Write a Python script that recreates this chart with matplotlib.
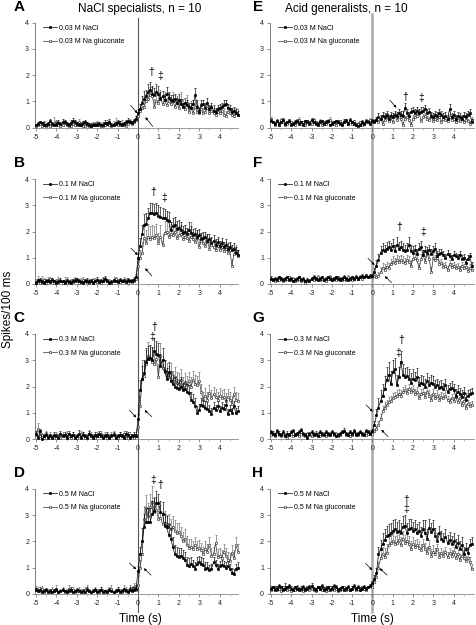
import numpy as np
import matplotlib
matplotlib.use('Agg')
import matplotlib.pyplot as plt
from matplotlib import transforms
from matplotlib.lines import Line2D

plt.rcParams['font.family'] = ['Liberation Sans', 'DejaVu Sans']
plt.rcParams['axes.unicode_minus'] = False

# 100 ms bins, -5.0 ... 4.9 s
t = np.round(np.arange(-50, 50) / 10.0, 1)

# ---- NaCl specialists ----
a_nacl = [0.10,0.15,0.20,0.18,0.12,0.10,0.15,0.25,0.15,0.10,
          0.12,0.18,0.15,0.20,0.22,0.15,0.10,0.18,0.25,0.20,
          0.15,0.12,0.10,0.18,0.20,0.15,0.10,0.08,0.12,0.10,
          0.12,0.15,0.10,0.12,0.18,0.15,0.20,0.12,0.10,0.15,
          0.20,0.15,0.10,0.15,0.20,0.25,0.20,0.18,0.25,0.35,
          0.55,0.70,0.95,1.10,1.20,1.35,1.45,1.30,1.25,1.35,
          1.30,1.10,1.20,1.05,1.30,1.15,1.05,1.00,1.10,0.95,
          1.05,0.90,0.80,0.95,0.85,0.80,0.75,0.90,1.25,0.80,
          0.60,0.85,0.90,0.75,0.95,0.70,0.80,0.65,0.60,0.70,
          0.75,0.80,0.85,0.90,0.75,0.70,0.60,0.65,0.55,0.50]
a_gluc = [0.05,0.10,0.15,0.08,0.10,0.05,0.12,0.08,0.10,0.15,
          0.20,0.10,0.08,0.12,0.18,0.10,0.05,0.08,0.15,0.12,
          0.10,0.20,0.12,0.08,0.05,0.10,0.08,0.05,0.10,0.12,
          0.15,0.10,0.08,0.05,0.10,0.15,0.12,0.08,0.10,0.18,
          0.10,0.12,0.15,0.10,0.08,0.15,0.20,0.15,0.20,0.30,
          0.45,0.65,0.75,0.80,1.00,1.10,1.25,1.20,0.80,1.00,
          0.95,1.15,0.90,1.05,0.85,1.00,0.90,1.05,0.80,0.95,
          0.75,1.05,0.85,0.70,0.95,0.60,0.75,0.55,0.80,0.60,
          0.55,0.70,0.55,0.60,0.75,0.55,0.65,0.55,0.50,0.60,
          0.55,0.65,0.50,0.45,0.60,0.55,0.50,0.45,0.55,0.50]
a_nacl_err = [.05,.08,.06,.05,.12,.06,.05,.10,.06,.05,.08,.10,.06,.12,.08,.05,.06,.10,.12,.08,
              .06,.05,.08,.06,.10,.05,.06,.08,.05,.06,.08,.06,.05,.08,.10,.06,.12,.05,.08,.06,
              .08,.10,.06,.08,.10,.12,.08,.06,.10,.10,.15,.20,.25,.30,.25,.30,.30,.30,.25,.30,
              .30,.25,.20,.25,.25,.20,.20,.25,.20,.20,.25,.20,.15,.20,.20,.15,.20,.15,.25,.25,
              .15,.20,.15,.20,.20,.15,.15,.20,.15,.15,.15,.15,.20,.15,.15,.15,.15,.15,.15,.15]
a_gluc_err = [.10,.12,.08,.10,.12,.08,.10,.12,.10,.25,.10,.15,.08,.15,.10,.12,.08,.10,.12,.08,
              .10,.15,.10,.08,.10,.12,.08,.10,.12,.08,.10,.12,.08,.10,.12,.15,.10,.08,.15,.20,
              .10,.12,.15,.10,.12,.15,.15,.12,.15,.15,.15,.20,.25,.30,.30,.25,.30,.35,.30,.30,
              .30,.30,.30,.30,.30,.30,.25,.30,.25,.25,.25,.30,.25,.25,.30,.25,.25,.25,.25,.25,
              .25,.25,.20,.20,.20,.20,.20,.20,.20,.20,.20,.20,.25,.20,.20,.20,.20,.20,.20,.20]

b_nacl = [0.05,0.10,0.15,0.08,0.05,0.12,0.10,0.08,0.15,0.10,
          0.05,0.08,0.12,0.10,0.05,0.10,0.08,0.05,0.10,0.12,
          0.15,0.10,0.08,0.05,0.10,0.12,0.08,0.10,0.05,0.10,
          0.15,0.08,0.10,0.12,0.20,0.10,0.05,0.08,0.12,0.10,
          0.08,0.15,0.10,0.12,0.08,0.15,0.10,0.12,0.15,0.25,
          1.00,1.45,1.90,2.25,2.30,2.50,2.70,2.70,2.65,2.70,
          2.60,2.55,2.50,2.50,2.45,2.40,2.05,2.20,2.25,2.10,
          2.15,2.05,1.95,2.00,1.90,2.05,1.95,1.85,1.90,1.80,
          1.85,1.70,1.75,1.80,1.65,1.70,1.55,1.65,1.50,1.60,
          1.45,1.55,1.40,1.50,1.35,1.40,1.30,1.35,1.20,1.10]
b_gluc = [0.08,0.15,0.05,0.10,0.15,0.05,0.12,0.18,0.10,0.05,
          0.08,0.15,0.10,0.05,0.12,0.15,0.05,0.10,0.08,0.15,
          0.12,0.05,0.10,0.15,0.12,0.08,0.05,0.10,0.15,0.10,
          0.08,0.12,0.05,0.10,0.15,0.12,0.08,0.05,0.15,0.20,
          0.10,0.08,0.12,0.15,0.10,0.05,0.10,0.08,0.12,0.20,
          0.70,1.00,1.20,1.75,1.55,1.80,1.70,1.80,1.75,1.85,
          1.55,1.80,1.50,1.95,2.00,1.80,1.90,1.85,2.00,1.75,
          1.85,1.90,1.70,1.80,1.75,1.65,1.80,1.70,1.60,1.75,
          1.40,1.65,1.55,1.45,1.60,1.35,1.50,1.40,1.30,1.45,
          1.30,1.40,1.25,1.35,1.20,1.30,0.70,1.15,1.25,1.05]
b_nacl_err = [.08,.10,.06,.08,.05,.08,.10,.06,.08,.05,.06,.08,.10,.06,.05,.08,.06,.05,.08,.10,
              .06,.08,.05,.06,.08,.10,.06,.08,.05,.06,.10,.06,.08,.10,.12,.08,.05,.06,.08,.06,
              .05,.08,.06,.08,.05,.08,.06,.08,.10,.12,.20,.30,.35,.40,.40,.40,.40,.40,.40,.40,
              .40,.40,.40,.35,.35,.35,.30,.30,.30,.30,.30,.30,.25,.25,.25,.30,.25,.25,.25,.25,
              .25,.25,.25,.20,.25,.20,.25,.20,.20,.20,.20,.20,.20,.20,.20,.20,.20,.20,.20,.20]
b_gluc_err = [.10,.15,.10,.20,.08,.10,.15,.10,.08,.10,.12,.10,.08,.10,.15,.10,.08,.10,.12,.10,
              .10,.08,.12,.10,.08,.10,.15,.10,.08,.12,.10,.08,.10,.15,.10,.08,.10,.12,.10,.08,
              .10,.12,.08,.10,.12,.10,.08,.10,.12,.10,.15,.30,.40,.50,.50,.50,.50,.45,.45,.45,
              .40,.45,.40,.45,.45,.40,.40,.35,.35,.35,.35,.35,.35,.35,.35,.30,.55,.30,.30,.30,
              .30,.30,.30,.30,.30,.30,.25,.25,.25,.25,.25,.25,.25,.25,.25,.25,.25,.25,.25,.25]

c_nacl = [0.20,0.05,0.30,0.00,0.10,0.15,0.05,0.10,0.05,0.15,
          0.10,0.05,0.20,0.10,0.15,0.05,0.20,0.10,0.15,0.05,
          0.10,0.20,0.05,0.15,0.10,0.05,0.20,0.10,0.05,0.15,
          0.10,0.20,0.10,0.05,0.10,0.15,0.05,0.10,0.15,0.05,
          0.10,0.15,0.10,0.05,0.20,0.15,0.05,0.10,0.15,0.10,
          0.75,1.85,2.30,2.50,2.95,3.05,3.10,3.00,3.35,3.25,
          3.20,2.80,3.00,2.60,2.30,2.55,2.20,2.10,2.00,1.95,
          1.90,2.00,1.85,1.90,1.80,1.75,1.50,1.40,1.25,1.00,
          1.10,1.30,1.25,1.20,1.15,1.05,0.95,1.20,1.10,1.25,
          1.05,1.20,1.15,1.30,0.95,1.10,1.00,1.25,1.00,1.05]
c_gluc = [0.15,0.40,0.10,0.15,0.05,0.20,0.10,0.15,0.10,0.05,
          0.15,0.10,0.05,0.15,0.10,0.20,0.10,0.05,0.15,0.10,
          0.05,0.10,0.20,0.15,0.05,0.10,0.20,0.15,0.10,0.05,
          0.15,0.10,0.20,0.10,0.15,0.05,0.10,0.15,0.20,0.10,
          0.05,0.15,0.10,0.20,0.05,0.10,0.15,0.10,0.05,0.10,
          0.45,1.25,2.30,2.40,2.85,3.15,3.05,2.95,2.85,3.05,
          2.35,3.15,2.70,2.55,2.45,2.35,2.50,2.20,2.35,2.15,
          2.10,2.25,2.00,2.15,2.05,2.20,2.00,2.25,2.10,2.05,
          2.20,1.80,1.50,1.65,1.50,1.75,1.55,1.70,1.60,1.50,
          1.65,1.55,1.60,1.45,1.60,1.50,1.35,1.70,1.50,1.45]
c_nacl_err = [.10,.06,.10,.05,.08,.10,.06,.08,.05,.10,.08,.06,.12,.08,.10,.06,.12,.08,.10,.06,
              .08,.15,.06,.10,.08,.06,.12,.08,.06,.10,.08,.10,.08,.06,.08,.10,.06,.08,.10,.06,
              .08,.10,.08,.06,.12,.10,.06,.08,.10,.08,.20,.40,.50,.50,.50,.50,.50,.50,.50,.50,
              .45,.45,.45,.40,.40,.40,.40,.35,.35,.35,.35,.35,.30,.30,.30,.30,.30,.30,.30,.25,
              .25,.25,.25,.25,.25,.25,.25,.20,.20,.20,.20,.20,.20,.20,.20,.20,.20,.20,.20,.20]
c_gluc_err = [.12,.20,.10,.08,.06,.10,.08,.10,.06,.08,.10,.08,.06,.10,.08,.12,.08,.06,.10,.08,
              .06,.08,.12,.10,.06,.08,.15,.10,.08,.06,.10,.08,.12,.08,.10,.06,.08,.10,.12,.08,
              .06,.10,.08,.12,.06,.08,.10,.08,.06,.08,.20,.40,.70,.60,.55,.55,.55,.50,.50,.50,
              .50,.50,.45,.45,.45,.45,.40,.40,.40,.40,.40,.40,.35,.35,.35,.35,.35,.35,.35,.35,
              .35,.30,.30,.30,.30,.30,.30,.30,.30,.30,.30,.30,.30,.30,.30,.30,.30,.30,.30,.30]

d_nacl = [0.15,0.10,0.15,0.05,0.10,0.15,0.05,0.10,0.05,0.10,
          0.15,0.05,0.10,0.15,0.10,0.05,0.10,0.15,0.05,0.10,
          0.15,0.10,0.05,0.10,0.05,0.15,0.10,0.05,0.10,0.15,
          0.05,0.10,0.15,0.05,0.10,0.05,0.15,0.10,0.05,0.10,
          0.15,0.05,0.10,0.15,0.10,0.05,0.15,0.10,0.15,0.20,
          0.85,1.50,2.00,2.55,2.75,2.75,2.75,3.05,3.15,3.45,
          3.45,3.10,3.05,2.60,2.55,2.25,2.10,1.80,1.50,1.45,
          1.40,1.45,1.35,1.30,1.10,1.05,1.15,1.05,0.95,1.15,
          1.20,1.15,1.10,0.95,1.00,0.90,0.95,1.20,1.10,0.95,
          1.05,1.10,1.05,1.00,1.05,0.95,0.80,0.75,0.95,1.00]
d_gluc = [0.20,0.15,0.10,0.20,0.05,0.15,0.10,0.05,0.15,0.10,
          0.20,0.05,0.10,0.15,0.05,0.10,0.20,0.10,0.15,0.05,
          0.10,0.15,0.10,0.05,0.15,0.20,0.10,0.05,0.10,0.15,
          0.10,0.05,0.15,0.10,0.05,0.10,0.15,0.20,0.05,0.10,
          0.15,0.10,0.05,0.20,0.15,0.10,0.20,0.15,0.25,0.15,
          0.35,1.00,1.50,2.85,3.25,2.95,3.30,3.50,3.10,3.20,
          2.85,2.90,2.65,2.70,2.55,2.65,2.45,2.55,2.40,2.30,
          2.35,2.20,2.00,2.10,1.85,1.75,1.80,1.70,1.85,1.70,
          1.75,1.65,1.50,1.70,1.60,1.85,1.45,1.50,1.95,1.40,
          1.45,1.35,1.60,1.45,1.30,1.25,1.55,1.35,1.85,1.60]
d_nacl_err = [.08,.06,.10,.05,.08,.06,.05,.08,.06,.10,.08,.05,.06,.08,.06,.05,.08,.10,.05,.06,
              .08,.06,.05,.08,.06,.10,.06,.05,.08,.06,.05,.08,.10,.05,.06,.05,.08,.06,.05,.08,
              .10,.05,.08,.06,.08,.05,.10,.15,.10,.15,.20,.30,.50,.50,.50,.50,.50,.50,.50,.45,
              .35,.45,.45,.45,.40,.40,.40,.35,.35,.35,.35,.30,.30,.30,.30,.30,.25,.25,.25,.25,
              .25,.25,.25,.25,.20,.20,.20,.20,.20,.20,.20,.20,.20,.20,.20,.20,.20,.20,.20,.20]
d_gluc_err = [.10,.12,.08,.10,.06,.08,.10,.06,.10,.08,.12,.06,.08,.10,.06,.08,.12,.08,.10,.06,
              .08,.10,.08,.06,.10,.12,.08,.06,.08,.10,.08,.06,.10,.08,.06,.08,.10,.12,.06,.08,
              .10,.08,.06,.12,.10,.08,.15,.12,.15,.20,.15,.30,.50,.50,.50,.50,.50,.60,.60,.50,
              .50,.50,.45,.45,.45,.40,.40,.40,.40,.40,.35,.35,.35,.35,.35,.35,.30,.30,.30,.30,
              .30,.30,.30,.30,.30,.30,.30,.30,.30,.30,.30,.30,.30,.30,.30,.30,.30,.30,.30,.30]

# ---- Acid generalists ----
e_nacl = [0.25,0.20,0.15,0.25,0.10,0.20,0.30,0.15,0.20,0.25,
          0.10,0.15,0.20,0.25,0.15,0.20,0.10,0.25,0.20,0.15,
          0.30,0.20,0.15,0.10,0.20,0.25,0.15,0.20,0.25,0.10,
          0.15,0.20,0.25,0.20,0.15,0.10,0.20,0.25,0.15,0.30,
          0.20,0.15,0.10,0.05,0.10,0.20,0.15,0.25,0.20,0.15,
          0.25,0.20,0.30,0.40,0.35,0.45,0.40,0.50,0.35,0.45,
          0.40,0.50,0.45,0.55,0.50,0.45,0.75,0.55,0.45,0.60,
          0.65,0.55,0.65,0.55,0.60,0.65,0.70,0.55,0.60,0.45,
          0.40,0.50,0.45,0.55,0.50,0.40,0.45,0.35,0.70,0.40,
          0.50,0.35,0.45,0.40,0.35,0.45,0.40,0.50,0.55,0.20]
e_gluc = [0.35,0.20,0.10,0.25,0.15,0.30,0.20,0.10,0.15,0.25,
          0.20,0.15,0.10,0.20,0.30,0.15,0.20,0.10,0.25,0.20,
          0.15,0.30,0.20,0.15,0.25,0.10,0.20,0.15,0.25,0.30,
          0.20,0.15,0.10,0.20,0.25,0.15,0.20,0.30,0.15,0.20,
          0.15,0.25,0.10,0.15,0.20,0.10,0.15,0.20,0.25,0.30,
          0.20,0.25,0.30,0.20,0.35,0.15,0.30,0.45,0.25,0.40,
          0.20,0.45,0.30,0.40,0.35,0.10,0.35,0.40,0.30,0.10,
          0.35,0.40,0.45,0.55,0.25,0.40,0.45,0.35,0.30,0.40,
          0.25,0.35,0.30,0.40,0.20,0.35,0.30,0.25,0.40,0.30,
          0.35,0.20,0.30,0.25,0.35,0.20,0.30,0.25,0.15,0.30]
e_nacl_err = [.08,.06,.05,.08,.06,.05,.08,.06,.05,.08,.06,.05,.08,.10,.06,.05,.08,.06,.10,.05,
              .08,.06,.05,.08,.10,.06,.05,.08,.06,.05,.08,.06,.05,.08,.06,.05,.15,.08,.06,.08,
              .06,.05,.08,.06,.05,.08,.06,.08,.06,.05,.10,.10,.10,.15,.15,.15,.15,.15,.15,.15,
              .15,.15,.15,.15,.15,.20,.20,.15,.15,.15,.15,.15,.15,.15,.20,.15,.15,.15,.15,.15,
              .15,.15,.15,.15,.15,.15,.15,.15,.20,.15,.15,.15,.15,.15,.15,.15,.15,.15,.15,.15]
e_gluc_err = [.06,.05,.08,.06,.05,.06,.08,.05,.06,.08,.05,.06,.08,.05,.10,.06,.05,.08,.06,.05,
              .06,.08,.05,.06,.08,.05,.06,.05,.08,.10,.06,.05,.08,.06,.05,.06,.08,.05,.06,.08,
              .05,.06,.08,.05,.06,.05,.08,.06,.05,.08,.08,.10,.10,.10,.10,.10,.10,.12,.10,.12,
              .10,.12,.10,.12,.10,.10,.10,.12,.10,.10,.12,.10,.12,.15,.10,.12,.12,.10,.10,.12,
              .10,.10,.10,.12,.10,.10,.10,.10,.12,.10,.10,.10,.10,.10,.10,.10,.10,.10,.10,.10]

f_nacl = [0.20,0.15,0.20,0.15,0.25,0.20,0.15,0.20,0.25,0.15,
          0.20,0.10,0.15,0.20,0.25,0.15,0.20,0.10,0.15,0.10,
          0.20,0.25,0.20,0.15,0.20,0.25,0.15,0.20,0.25,0.20,
          0.15,0.20,0.25,0.20,0.15,0.20,0.25,0.20,0.15,0.20,
          0.25,0.20,0.25,0.20,0.25,0.30,0.25,0.30,0.25,0.30,
          0.30,0.45,0.70,0.90,1.20,1.30,1.25,1.35,1.40,1.30,
          1.45,1.25,1.50,1.35,1.40,1.30,1.25,1.30,1.50,1.25,
          1.20,1.30,1.15,1.35,1.40,1.10,1.25,1.20,1.30,1.15,
          1.25,1.35,1.05,1.15,1.20,1.10,1.00,1.15,1.05,0.95,
          1.10,1.05,1.00,1.10,0.95,1.00,0.80,0.95,1.05,0.70]
f_gluc = [0.20,0.15,0.10,0.20,0.15,0.20,0.10,0.15,0.20,0.25,
          0.15,0.20,0.10,0.15,0.20,0.10,0.15,0.05,0.10,0.15,
          0.20,0.15,0.20,0.25,0.15,0.20,0.15,0.10,0.20,0.25,
          0.15,0.20,0.15,0.25,0.20,0.15,0.20,0.15,0.25,0.20,
          0.15,0.20,0.25,0.20,0.25,0.20,0.25,0.30,0.25,0.25,
          0.25,0.30,0.25,0.30,0.45,0.60,0.55,0.65,0.60,0.75,
          0.85,0.80,0.90,0.85,0.90,0.85,0.80,0.90,0.85,0.70,
          0.95,1.00,0.90,0.60,0.95,1.10,0.85,1.15,0.95,0.45,
          1.00,0.90,1.00,0.75,0.80,0.65,0.70,0.55,0.75,0.65,
          0.70,0.60,0.65,0.55,0.70,0.60,0.65,0.50,0.60,0.55]
f_nacl_err = [.10,.06,.05,.08,.06,.05,.08,.06,.05,.08,.06,.05,.08,.06,.05,.08,.06,.05,.08,.06,
              .05,.08,.06,.05,.08,.06,.05,.08,.06,.05,.08,.06,.05,.08,.06,.05,.08,.06,.05,.08,
              .06,.05,.08,.06,.05,.08,.06,.08,.06,.08,.10,.15,.20,.25,.25,.25,.25,.25,.25,.25,
              .25,.25,.30,.25,.25,.25,.25,.25,.30,.25,.25,.20,.20,.20,.25,.20,.20,.20,.20,.20,
              .20,.20,.20,.20,.15,.15,.15,.15,.15,.15,.15,.15,.15,.15,.15,.15,.15,.15,.15,.15]
f_gluc_err = [.06,.05,.08,.06,.05,.08,.06,.05,.08,.06,.05,.08,.06,.05,.08,.06,.05,.08,.06,.05,
              .08,.06,.05,.08,.06,.05,.08,.06,.05,.08,.06,.05,.08,.06,.05,.08,.06,.05,.08,.06,
              .05,.08,.06,.05,.08,.06,.05,.08,.06,.08,.10,.10,.15,.15,.20,.20,.20,.20,.20,.20,
              .20,.20,.20,.20,.20,.20,.20,.20,.20,.20,.20,.20,.20,.20,.20,.20,.20,.20,.20,.20,
              .20,.20,.20,.15,.15,.15,.15,.15,.15,.15,.15,.15,.15,.15,.15,.15,.15,.15,.15,.15]

g_nacl = [0.25,0.20,0.15,0.30,0.20,0.15,0.25,0.10,0.20,0.15,
          0.25,0.30,0.15,0.20,0.25,0.35,0.20,0.15,0.05,0.20,
          0.25,0.15,0.20,0.10,0.25,0.20,0.15,0.25,0.20,0.15,
          0.25,0.20,0.10,0.15,0.20,0.25,0.30,0.20,0.15,0.25,
          0.20,0.30,0.15,0.20,0.25,0.20,0.15,0.30,0.25,0.20,
          0.30,0.55,0.90,1.20,1.45,1.65,1.90,2.25,2.45,2.10,
          2.55,2.65,2.05,2.35,2.95,2.45,2.35,2.40,2.30,2.15,
          2.30,2.25,2.35,2.05,2.15,2.10,2.00,2.20,2.05,2.15,
          2.10,2.00,2.05,1.95,2.00,1.90,2.05,1.80,1.90,1.95,
          1.85,1.65,1.80,1.70,1.60,1.75,1.50,1.65,1.70,1.75]
g_gluc = [0.15,0.20,0.10,0.25,0.15,0.10,0.20,0.15,0.05,0.15,
          0.20,0.10,0.15,0.20,0.10,0.25,0.15,0.10,0.20,0.15,
          0.10,0.20,0.15,0.20,0.10,0.15,0.20,0.10,0.15,0.20,
          0.25,0.15,0.20,0.10,0.15,0.25,0.30,0.15,0.20,0.10,
          0.15,0.25,0.20,0.15,0.25,0.15,0.20,0.15,0.20,0.25,
          0.20,0.30,0.40,0.55,0.75,1.05,1.20,1.30,1.40,1.45,
          1.55,1.60,1.65,1.70,1.65,1.80,1.85,1.75,1.90,1.80,
          1.85,1.70,1.80,1.55,1.70,1.75,1.60,1.80,1.65,1.50,
          1.70,1.55,1.65,1.50,1.60,1.55,1.65,1.50,1.40,1.55,
          1.45,1.60,1.40,1.55,1.30,1.45,1.20,1.35,1.25,1.30]
g_nacl_err = [.08,.10,.06,.08,.12,.06,.08,.05,.10,.06,.08,.10,.06,.08,.10,.08,.06,.08,.05,.06,
              .08,.06,.10,.05,.08,.06,.05,.08,.06,.05,.08,.06,.05,.06,.08,.10,.12,.08,.06,.08,
              .06,.10,.06,.08,.10,.06,.05,.08,.10,.06,.10,.15,.25,.35,.40,.45,.50,.50,.50,.50,
              .45,.45,.40,.40,.40,.40,.35,.35,.35,.35,.35,.30,.35,.30,.30,.30,.30,.30,.30,.30,
              .30,.25,.25,.25,.25,.25,.25,.25,.25,.25,.25,.25,.25,.25,.25,.25,.25,.20,.20,.20]
g_gluc_err = [.06,.08,.05,.06,.08,.05,.06,.08,.05,.06,.08,.05,.06,.08,.05,.06,.08,.05,.06,.08,
              .05,.06,.08,.05,.06,.08,.05,.06,.08,.05,.06,.08,.05,.06,.08,.05,.06,.08,.05,.06,
              .08,.05,.06,.08,.05,.06,.08,.05,.06,.08,.05,.10,.10,.15,.20,.20,.20,.20,.20,.20,
              .20,.20,.20,.20,.20,.20,.20,.20,.20,.20,.20,.20,.20,.20,.20,.20,.20,.20,.20,.20,
              .20,.20,.20,.20,.20,.20,.20,.15,.15,.15,.15,.15,.15,.15,.15,.15,.15,.15,.15,.15]

h_nacl = [0.20,0.25,0.15,0.20,0.30,0.25,0.15,0.20,0.25,0.30,
          0.20,0.15,0.25,0.20,0.15,0.20,0.25,0.15,0.20,0.25,
          0.30,0.20,0.15,0.25,0.20,0.30,0.15,0.20,0.25,0.15,
          0.20,0.30,0.25,0.15,0.20,0.25,0.15,0.20,0.25,0.15,
          0.20,0.30,0.20,0.25,0.15,0.20,0.25,0.20,0.25,0.30,
          0.40,0.55,0.80,1.50,1.70,1.90,2.05,2.20,2.25,2.30,
          2.40,2.45,2.35,2.40,2.30,2.55,2.60,2.30,2.45,2.50,
          2.40,2.45,2.30,2.40,2.20,2.45,2.30,2.10,2.50,2.35,
          2.45,2.20,2.00,2.30,2.10,2.00,2.15,1.95,2.05,1.90,
          2.00,1.80,1.95,1.70,1.85,1.50,1.70,1.55,1.85,1.90]
h_gluc = [0.15,0.20,0.25,0.15,0.20,0.10,0.25,0.20,0.15,0.20,
          0.10,0.20,0.15,0.25,0.20,0.15,0.10,0.20,0.25,0.15,
          0.20,0.15,0.10,0.25,0.20,0.15,0.20,0.10,0.15,0.25,
          0.20,0.15,0.20,0.10,0.15,0.20,0.25,0.15,0.20,0.15,
          0.20,0.25,0.15,0.20,0.15,0.25,0.20,0.15,0.25,0.30,
          0.25,0.45,0.65,1.00,1.35,1.50,1.40,1.55,1.85,1.95,
          2.00,1.90,1.95,2.05,1.85,2.10,1.95,2.00,1.90,1.70,
          1.90,1.80,1.85,1.75,1.65,1.85,1.70,1.55,1.80,1.45,
          1.60,1.50,1.70,1.40,1.55,1.45,1.60,1.40,1.55,1.45,
          1.60,1.35,1.50,1.30,1.45,1.35,1.25,1.35,1.20,0.95]
h_nacl_err = [.08,.06,.10,.08,.06,.05,.08,.20,.06,.08,.10,.06,.05,.08,.06,.10,.08,.06,.05,.08,
              .10,.06,.08,.05,.08,.06,.10,.08,.06,.05,.08,.06,.10,.08,.06,.05,.08,.06,.10,.05,
              .08,.06,.05,.08,.10,.06,.08,.05,.06,.08,.10,.15,.20,.30,.35,.40,.40,.40,.40,.40,
              .40,.40,.40,.40,.40,.40,.40,.40,.40,.35,.35,.35,.35,.35,.35,.35,.50,.35,.35,.35,
              .35,.30,.30,.30,.30,.30,.30,.30,.30,.30,.30,.30,.30,.30,.30,.30,.25,.25,.25,.25]
h_gluc_err = [.06,.08,.05,.06,.08,.05,.06,.08,.05,.06,.08,.05,.06,.08,.05,.06,.08,.05,.06,.08,
              .05,.06,.08,.05,.06,.08,.05,.06,.08,.05,.06,.08,.05,.06,.08,.05,.06,.08,.05,.06,
              .08,.05,.06,.08,.05,.06,.08,.05,.06,.08,.10,.10,.15,.20,.30,.30,.35,.35,.35,.30,
              .30,.30,.30,.30,.30,.30,.30,.30,.30,.30,.25,.25,.25,.25,.25,.25,.25,.25,.25,.25,
              .25,.25,.20,.20,.20,.20,.20,.20,.20,.20,.20,.20,.20,.20,.20,.20,.20,.20,.20,.20]

concs = ['0.03', '0.1', '0.3', '0.5']

# letter, column, row, NaCl, NaCl sem, gluconate, gluconate sem, concentration
panels = [
    ('A', 0, 0, a_nacl, a_nacl_err, a_gluc, a_gluc_err, concs[0]),
    ('B', 0, 1, b_nacl, b_nacl_err, b_gluc, b_gluc_err, concs[1]),
    ('C', 0, 2, c_nacl, c_nacl_err, c_gluc, c_gluc_err, concs[2]),
    ('D', 0, 3, d_nacl, d_nacl_err, d_gluc, d_gluc_err, concs[3]),
    ('E', 1, 0, e_nacl, e_nacl_err, e_gluc, e_gluc_err, concs[0]),
    ('F', 1, 1, f_nacl, f_nacl_err, f_gluc, f_gluc_err, concs[1]),
    ('G', 1, 2, g_nacl, g_nacl_err, g_gluc, g_gluc_err, concs[2]),
    ('H', 1, 3, h_nacl, h_nacl_err, h_gluc, h_gluc_err, concs[3]),
]

# significance marks (symbol, x, y) and arrows (tail, head)
marks = {
    'A': [('†', 0.66, 2.13), ('‡', 1.07, 1.97)],
    'B': [('†', 0.74, 3.52), ('‡', 1.28, 3.26)],
    'C': [('†', 0.77, 4.25), ('‡', 0.71, 3.90)],
    'D': [('‡', 0.74, 4.33), ('†', 1.07, 4.14)],
    'E': [('†', 1.63, 1.18), ('‡', 2.38, 1.12)],
    'F': [('†', 1.30, 2.16), ('‡', 2.51, 1.99)],
    'G': [('†', 1.42, 3.77), ('‡', 1.28, 3.26)],
    'H': [('†', 1.68, 3.58), ('‡', 1.65, 3.22)],
}
arrows = {
    'A': [((-0.36, 0.85), (-0.03, 0.55)), ((0.72, 0.05), (0.36, 0.40))],
    'B': [((-0.34, 1.36), (-0.01, 1.10)), ((0.68, 0.30), (0.35, 0.60))],
    'C': [((-0.42, 1.10), (-0.09, 0.82)), ((0.68, 0.85), (0.32, 1.10))],
    'D': [((-0.42, 1.17), (-0.09, 0.93)), ((0.64, 0.71), (0.28, 0.97))],
    'E': [((0.86, 1.05), (1.18, 0.76))],
    'F': [((-0.22, 0.98), (0.11, 0.72)), ((0.94, 0.05), (0.61, 0.30))],
    'G': [((-0.31, 1.30), (0.02, 1.04)), ((0.77, 0.09), (0.44, 0.35))],
    'H': [((-0.34, 1.16), (-0.01, 0.90)), ((0.72, 0.71), (0.36, 0.97))],
}

fig = plt.figure(figsize=(4.76, 6.25), dpi=100)

col_left = [0.0735, 0.567]
col_width = [0.4265, 0.4286]
col_xlim = [(-5.05, 4.9), (-5.05, 5.0)]
row_bottom = [0.7957, 0.5456, 0.2976, 0.050]
row_h = 0.168
letter_x = [0.040, 0.542]

axes = {}
for letter, col, row, nacl, nacl_err, gluc, gluc_err, conc in panels:
    ax = fig.add_axes([col_left[col], row_bottom[row], col_width[col], row_h])
    ax.patch.set_visible(False)
    axes[letter] = ax
    ax.set_xlim(*col_xlim[col])
    ax.set_ylim(0, 4)
    for s in ['top', 'right']:
        ax.spines[s].set_visible(False)
    ax.spines['left'].set_color('#666666')
    ax.spines['bottom'].set_color('#888888')
    ax.spines['left'].set_linewidth(0.6)
    ax.spines['bottom'].set_linewidth(0.6)
    ax.spines['left'].set_bounds(0, 4)
    ax.set_xticks(range(-5, 5))
    ax.set_xticks(np.arange(-5, 5, 0.5), minor=True)
    ax.set_yticks(range(0, 5))
    ax.tick_params(axis='both', which='major', labelsize=5, length=2.2, width=0.5,
                   color='#666666', pad=2, labelcolor='#222222')
    ax.tick_params(axis='x', which='minor', length=1.3, width=0.4, color='#888888')

    # gluconate (open squares)
    k = min(len(t), len(gluc), len(gluc_err))
    ax.errorbar(t[:k], gluc[:k], yerr=[np.zeros(k), gluc_err[:k]], fmt='none',
                ecolor='#666666', elinewidth=0.45, capsize=1.0, capthick=0.45,
                clip_on=False, zorder=2)
    lg, = ax.plot(t[:k], gluc[:k], '-', color='#333333', lw=0.5, marker='s', ms=1.9,
                  mfc='white', mec='#333333', mew=0.45, clip_on=False, zorder=3)
    # NaCl (filled squares)
    k = min(len(t), len(nacl), len(nacl_err))
    ax.errorbar(t[:k], nacl[:k], yerr=[np.zeros(k), nacl_err[:k]], fmt='none',
                ecolor='black', elinewidth=0.45, capsize=1.0, capthick=0.45,
                clip_on=False, zorder=4)
    ln, = ax.plot(t[:k], nacl[:k], '-', color='black', lw=0.5, marker='s', ms=1.9,
                  mfc='black', mec='black', mew=0.45, clip_on=False, zorder=5)

    ax.legend([ln, lg], [conc + ' M NaCl', conc + ' M Na gluconate'],
              loc='upper left', bbox_to_anchor=(0.02, 1.02), fontsize=5,
              frameon=False, handlelength=2.0, handletextpad=0.3,
              labelspacing=0.95, borderaxespad=0.2)

    for sym, x, y in marks[letter]:
        ax.text(x, y, sym, fontsize=7.5, ha='center', va='center', color='black')
    for tail, head in arrows[letter]:
        ax.annotate('', xy=head, xytext=tail,
                    arrowprops=dict(arrowstyle='-|>', lw=0.5, color='black',
                                    mutation_scale=3.5, shrinkA=0, shrinkB=0))

    fig.text(letter_x[col], row_bottom[row] + row_h + 0.025, letter,
             fontsize=11, fontweight='bold', ha='center', va='center')

# stimulus onset lines running through each column, behind the data
tr_l = transforms.blended_transform_factory(axes['A'].transData, fig.transFigure)
fig.add_artist(Line2D([0, 0], [1 - 18 / 625, 1 - 612 / 625], transform=tr_l,
                      color='#555555', lw=0.8, zorder=-1))
tr_r = transforms.blended_transform_factory(axes['E'].transData, fig.transFigure)
fig.add_artist(Line2D([0, 0], [1 - 14 / 625, 1 - 612 / 625], transform=tr_r,
                      color='#aaaaaa', lw=1.8, zorder=-1))

fig.text(140 / 476, 1 - 9 / 625, 'NaCl specialists, n = 10', fontsize=8.5,
         ha='center', va='center')
fig.text(346 / 476, 1 - 9 / 625, 'Acid generalists, n = 10', fontsize=8.5,
         ha='center', va='center')
fig.text(8 / 476, 0.505, 'Spikes/100 ms', fontsize=8.5, rotation=90,
         ha='center', va='center')
fig.text(140 / 476, 1 - 619 / 625, 'Time (s)', fontsize=8.5, ha='center', va='center')
fig.text(372 / 476, 1 - 619 / 625, 'Time (s)', fontsize=8.5, ha='center', va='center')

fig.savefig('out.png', dpi=100)
